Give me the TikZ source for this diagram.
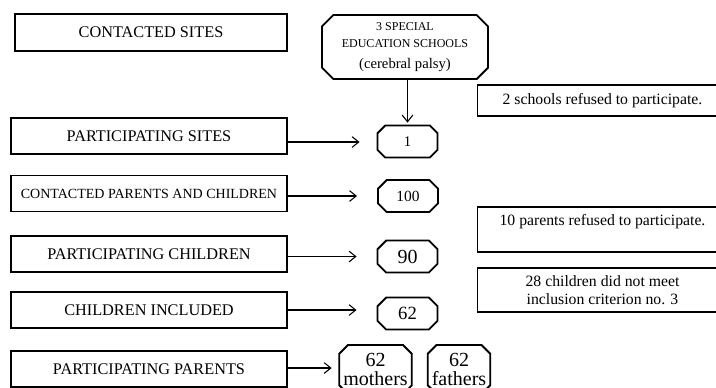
\documentclass[tikz,border=0pt]{standalone}
\usepackage{fontspec}
\setmainfont{Liberation Serif}
\usepackage{tikz}
\usetikzlibrary{positioning,arrows.meta,shapes.misc}
\tikzset{
	stage/.style={draw=black, line width=1.1pt, rectangle, inner sep=0pt, minimum width=207pt, minimum height=27pt, font=\fontsize{12.2}{14}\selectfont},
	count/.style={draw=black, line width=1.4pt, chamfered rectangle, chamfered rectangle xsep=3pt, chamfered rectangle ysep=3.5pt, inner sep=0pt, minimum width=45pt, minimum height=24pt, align=center},
	note/.style={draw=black, line width=0.8pt, rectangle, inner sep=0pt, minimum width=188pt, align=center, font=\fontsize{11.8}{14}\selectfont},
	arr/.style={line width=0.8pt, -{Straight Barb[length=5pt,width=8pt]}},
}
\begin{document}
\begin{tikzpicture}[x=0.75pt,y=-0.75pt]
    \clip (0,0) rectangle (716,387);

    \node[stage, minimum width=204pt, minimum height=27.75pt] (cs) at (151,32.5) {CONTACTED SITES};
    \node[stage] (ps) at (149,136) {PARTICIPATING SITES};
    \node[stage, font=\fontsize{10.5}{12}\selectfont] (cpc) at (149,193.5) {CONTACTED PARENTS AND CHILDREN};
    \node[stage] (pc) at (149,254) {PARTICIPATING CHILDREN};
    \node[stage] (ci) at (149,310) {CHILDREN INCLUDED};
    \node[stage] (pp) at (149,369) {PARTICIPATING PARENTS};

    \node[count, minimum width=124.5pt, minimum height=48pt, chamfered rectangle xsep=4pt, chamfered rectangle ysep=4.5pt, font=\fontsize{9}{12.5}\selectfont] (schools) at (405,47)
        {3 SPECIAL\\EDUCATION SCHOOLS\\[3.5pt]{\fontsize{11}{13}\selectfont (cerebral palsy)}};
    \node[count, font=\fontsize{11}{13}\selectfont] (n1) at (407.5,141.5) {1};
    \node[count, font=\fontsize{11.6}{13}\selectfont] (n100) at (408,196) {100};
    \node[count, font=\fontsize{15}{16}\selectfont] (n90) at (407.5,256.5) {90};
    \node[count, font=\fontsize{14}{16}\selectfont] (n62) at (407.5,313.5) {62};
    \node[count, minimum width=53.25pt, minimum height=36.75pt, font=\fontsize{15}{14.5}\selectfont] (mothers) at (375.5,369.5) {62\\mothers};
    \node[count, minimum width=46.5pt, minimum height=36.75pt, font=\fontsize{15}{14.5}\selectfont] (fathers) at (459,369.5) {62\\fathers};

    \node[note, minimum height=23.25pt] (r1) at (602.5,100.5) {2 schools refused to participate.};
    \node[note, minimum height=33.75pt, text height=14pt, text depth=19.75pt] (r2) at (602.5,229.5) {10 parents refused to participate.};
    \node[note, minimum height=33pt] (r3) at (602.5,290) {28 children did not meet\\inclusion criterion no. 3};

    \draw[arr, shorten >=1.5pt] (schools.south -| n1) -- (n1.north);
    \draw[arr] (ps.east |- 0,142) -- ([xshift=-12.75pt]n1.west |- 0,142);
    \draw[arr] (cpc.east |- n100) -- ([xshift=-15pt]n100.west);
    \draw[arr] (pc.east |- n90) -- ([xshift=-15pt]n90.west);
    \draw[arr] (ci.east |- 0,310) -- ([xshift=-15pt]n62.west |- 0,310);
    \draw[arr] (pp.east |- 0,368) -- ([xshift=-5pt]mothers.west |- 0,368);
\end{tikzpicture}
\end{document}
